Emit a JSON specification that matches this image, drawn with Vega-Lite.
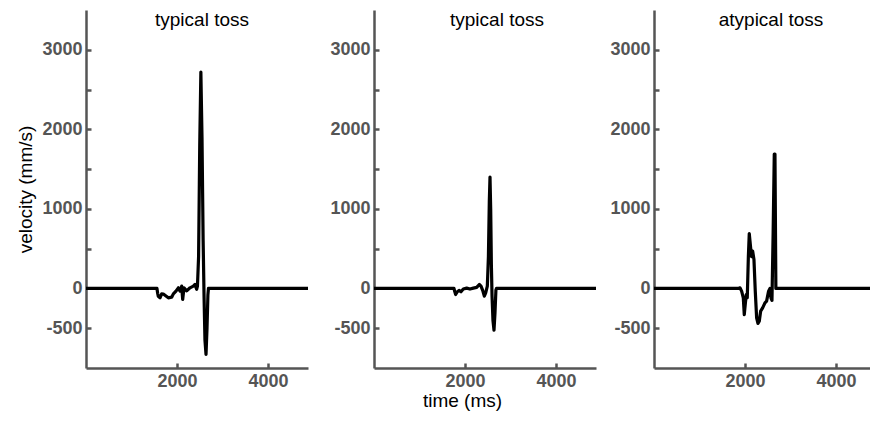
{
  "$schema": "https://vega.github.io/schema/vega-lite/v6.json",
  "padding": {"left": 16, "top": 10, "right": 0, "bottom": 5},
  "config": {
    "view": {"stroke": null},
    "font": "Liberation Sans",
    "axis": {"grid": false, "domainColor": "#555555", "domainWidth": 2.5, "tickColor": "#555555", "tickWidth": 2.5, "tickSize": -5,
      "labelFont": "Liberation Sans", "labelFontWeight": "bold", "labelFontSize": 18, "labelColor": "#555555", "labelOverlap": false, "labelFlush": false,
      "titleFont": "Liberation Sans", "titleFontWeight": "normal", "titleFontSize": 19, "titleColor": "#000000"},
    "title": {"font": "Liberation Sans", "fontSize": 19, "fontWeight": "normal", "color": "#000000", "anchor": "middle", "baseline": "top", "offset": -20}
  },
  "spacing": 13,
  "hconcat": [
    {
      "spacing": 21,
      "hconcat": [
        {
          "width": 222, "height": 358,
          "title": {"text": "typical toss", "dx": 5},
          "data": {"values": [
            {"t": 0, "v": 0}, {"t": 1560, "v": 0}, {"t": 1575, "v": -60}, {"t": 1590, "v": -100}, {"t": 1627, "v": -118},
            {"t": 1663, "v": -68}, {"t": 1700, "v": -70}, {"t": 1758, "v": -95}, {"t": 1810, "v": -118}, {"t": 1883, "v": -110},
            {"t": 1920, "v": -68}, {"t": 1978, "v": -34}, {"t": 2030, "v": 8}, {"t": 2066, "v": -34}, {"t": 2103, "v": 29},
            {"t": 2125, "v": -139}, {"t": 2154, "v": 8}, {"t": 2213, "v": -30}, {"t": 2286, "v": 8}, {"t": 2359, "v": 29},
            {"t": 2396, "v": 50}, {"t": 2432, "v": -10}, {"t": 2450, "v": 30}, {"t": 2475, "v": 400}, {"t": 2500, "v": 1800},
            {"t": 2525, "v": 2720}, {"t": 2550, "v": 1900}, {"t": 2575, "v": 600}, {"t": 2595, "v": -100}, {"t": 2615, "v": -650},
            {"t": 2638, "v": -830}, {"t": 2660, "v": -500}, {"t": 2680, "v": -80}, {"t": 2692, "v": 0}, {"t": 4880, "v": 0}
          ]},
          "mark": {"type": "line", "color": "black", "strokeWidth": 3.2, "strokeJoin": "round", "clip": true},
          "encoding": {
            "x": {"field": "t", "type": "quantitative", "scale": {"domain": [0, 4880], "nice": false},
              "axis": {"values": [2000, 4000], "title": null, "labelPadding": 9, "labelExpr": "'' + datum.value"}},
            "y": {"field": "v", "type": "quantitative", "scale": {"domain": [-1000, 3500], "nice": false},
              "axis": {"values": [-500, 0, 500, 1000, 1500, 2000, 2500, 3000], "labelPadding": 9,
                "labelExpr": "datum.value == 500 || datum.value == 1500 || datum.value == 2500 ? '' : '' + datum.value",
                "title": "velocity (mm/s)", "titlePadding": 6}}
          }
        },
        {
          "width": 222, "height": 358,
          "title": {"text": "typical toss", "dx": 12},
          "data": {"values": [
            {"t": 0, "v": 0}, {"t": 1758, "v": 0}, {"t": 1775, "v": -40}, {"t": 1795, "v": -76}, {"t": 1831, "v": -42},
            {"t": 1875, "v": -25}, {"t": 1912, "v": -42}, {"t": 1963, "v": -8}, {"t": 2037, "v": 4}, {"t": 2110, "v": -8},
            {"t": 2183, "v": 4}, {"t": 2257, "v": 13}, {"t": 2315, "v": 50}, {"t": 2352, "v": 29}, {"t": 2389, "v": -25},
            {"t": 2425, "v": -97}, {"t": 2455, "v": -55}, {"t": 2491, "v": 29}, {"t": 2515, "v": 400}, {"t": 2535, "v": 1100},
            {"t": 2550, "v": 1400}, {"t": 2565, "v": 1000}, {"t": 2580, "v": 300}, {"t": 2595, "v": -100}, {"t": 2615, "v": -400},
            {"t": 2638, "v": -525}, {"t": 2660, "v": -300}, {"t": 2680, "v": -20}, {"t": 2692, "v": 0}, {"t": 4880, "v": 0}
          ]},
          "mark": {"type": "line", "color": "black", "strokeWidth": 3.2, "strokeJoin": "round", "clip": true},
          "encoding": {
            "x": {"field": "t", "type": "quantitative", "scale": {"domain": [0, 4880], "nice": false},
              "axis": {"values": [2000, 4000], "title": "time (ms)", "labelPadding": 9, "labelExpr": "'' + datum.value", "titleX": 88, "titlePadding": 1}},
            "y": {"field": "v", "type": "quantitative", "scale": {"domain": [-1000, 3500], "nice": false},
              "axis": {"values": [-500, 0, 500, 1000, 1500, 2000, 2500, 3000], "labelPadding": 9,
                "labelExpr": "datum.value == 500 || datum.value == 1500 || datum.value == 2500 ? '' : '' + datum.value",
                "title": null}}
          }
        }
      ]
    },
    {
      "width": 216, "height": 358,
      "title": {"text": "atypical toss", "dx": 9},
      "data": {"values": [
        {"t": 0, "v": 0}, {"t": 1854, "v": 0}, {"t": 1890, "v": 8}, {"t": 1927, "v": -34}, {"t": 1964, "v": -118},
        {"t": 1985, "v": -330}, {"t": 2010, "v": -180}, {"t": 2030, "v": -76}, {"t": 2051, "v": -118}, {"t": 2075, "v": 400},
        {"t": 2095, "v": 690}, {"t": 2110, "v": 600}, {"t": 2125, "v": 512}, {"t": 2145, "v": 400}, {"t": 2169, "v": 470},
        {"t": 2198, "v": 365}, {"t": 2227, "v": -34}, {"t": 2257, "v": -370}, {"t": 2286, "v": -440}, {"t": 2315, "v": -412},
        {"t": 2345, "v": -286}, {"t": 2389, "v": -244}, {"t": 2440, "v": -181}, {"t": 2476, "v": -160}, {"t": 2520, "v": -34},
        {"t": 2550, "v": 0}, {"t": 2572, "v": -118}, {"t": 2594, "v": -150}, {"t": 2620, "v": 700}, {"t": 2645, "v": 1690},
        {"t": 2660, "v": 1690}, {"t": 2680, "v": 0}, {"t": 4750, "v": 0}
      ]},
      "mark": {"type": "line", "color": "black", "strokeWidth": 3.2, "strokeJoin": "round", "clip": true},
      "encoding": {
        "x": {"field": "t", "type": "quantitative", "scale": {"domain": [0, 4750], "nice": false},
          "axis": {"values": [2000, 4000], "title": null, "labelPadding": 9, "labelExpr": "'' + datum.value"}},
        "y": {"field": "v", "type": "quantitative", "scale": {"domain": [-1000, 3500], "nice": false},
          "axis": {"values": [-500, 0, 500, 1000, 1500, 2000, 2500, 3000], "labelPadding": 9,
            "labelExpr": "datum.value == 500 || datum.value == 1500 || datum.value == 2500 ? '' : '' + datum.value",
            "title": null}}
      }
    }
  ]
}
